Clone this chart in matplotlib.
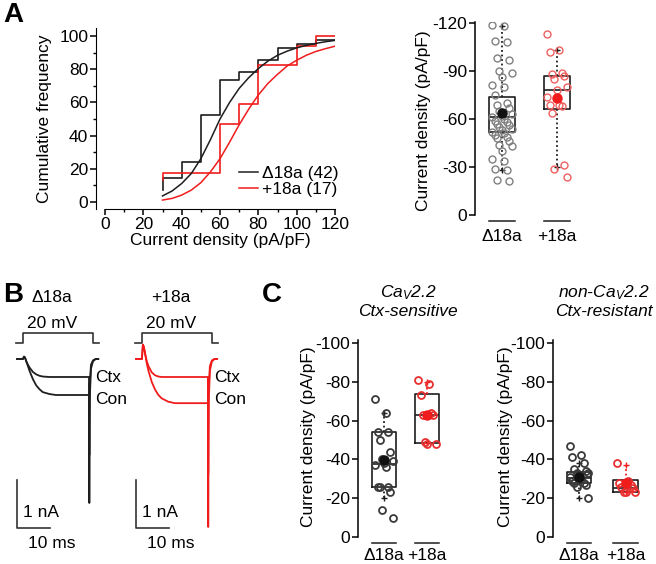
import numpy as np
import matplotlib
matplotlib.use("Agg")
import matplotlib.pyplot as plt
from matplotlib.ticker import MultipleLocator

plt.rcParams['font.family'] = ['Liberation Sans', 'DejaVu Sans']
plt.rcParams['font.size'] = 12.5
plt.rcParams['axes.unicode_minus'] = False
plt.rcParams['mathtext.fontset'] = 'custom'
plt.rcParams['mathtext.it'] = 'Liberation Sans:italic'
plt.rcParams['mathtext.rm'] = 'Liberation Sans'
plt.rcParams['mathtext.default'] = 'it'

# ---------------- data ----------------
groups = ['\u039418a', '+18a']

# A: cumulative frequency (%), step histogram, bins of 10 pA/pF
cdf_bins = [30, 30, 40, 50, 60, 70, 80, 90, 100, 110, 120]
cdf_delta = [7, 14.3, 23.8, 52.4, 73.8, 78.6, 85.7, 92.9, 95.2, 97.6, 97.6]
cdf_plus = [13, 17.6, 17.6, 17.6, 47.1, 58.8, 82.4, 82.4, 94.1, 100, 100]
# A: fitted curves
fit_x = [30, 35, 40, 45, 50, 55, 60, 65, 70, 75, 80, 85, 90, 95, 100, 105, 110, 115, 120]
fit_delta = [3.5, 6.5, 11, 17, 26, 37.5, 50, 60, 68.5, 75, 80.5, 85, 88.5, 91, 93, 94.5, 95.7, 96.7, 97.5]
fit_plus = [1, 2, 4, 7, 11.5, 18, 26, 36, 46.5, 56, 64.5, 71.5, 77, 82, 85.5, 88.5, 90.8, 92.5, 94]

# A: current density of individual cells (pA/pF)
dens_delta = [-119, -118, -109, -108, -98, -97, -90, -89, -86, -81, -80, -75, -70, -69,
              -67, -65, -63, -62, -61, -60, -59, -58, -57, -56, -55, -54, -53, -52, -51,
              -50, -49, -48, -46, -44, -43, -40, -35, -34, -29, -28, -22, -21]
dens_plus = [-113, -103, -102, -89, -88, -87, -85, -80, -78, -74, -69, -69, -68, -64, -31, -29, -24]
# box stats: q1, median, q3, whisker low, whisker high, mean
box_A = [dict(q1=-52, med=-61, q3=-74, whislo=-28, whishi=-118, mean=-64),
         dict(q1=-66, med=-78, q3=-87, whislo=-30, whishi=-103, mean=-73)]

# B: current traces (ms after step onset, nA)
t_trace = [-1.8, 0, 0.3, 0.6, 1, 1.5, 2, 3, 4, 5, 6, 8, 10, 15, 20,
           20.1, 20.25, 20.6, 21.2, 22, 22.8]
delta_con = [0, 0, 0.05, 0.03, -0.05, -0.15, -0.25, -0.42, -0.55, -0.63, -0.69, -0.73, -0.75, -0.75, -0.75,
             -3.0, -0.8, -0.2, -0.05, 0, 0]
delta_ctx = [0, 0, 0.05, 0.03, -0.05, -0.12, -0.18, -0.27, -0.32, -0.35, -0.365, -0.375, -0.375, -0.375, -0.375,
             -2.0, -0.5, -0.12, -0.03, 0, 0]
plus_con = [0, 0, 0.3, 0.25, 0.1, -0.1, -0.25, -0.48, -0.64, -0.75, -0.82, -0.89, -0.92, -0.92, -0.92,
            -3.5, -0.9, -0.25, -0.05, 0, 0]
plus_ctx = [0, 0, 0.3, 0.25, 0.1, -0.05, -0.15, -0.28, -0.34, -0.365, -0.375, -0.375, -0.375, -0.375, -0.375,
            -2.4, -0.6, -0.15, -0.03, 0, 0]
t_protocol = [-2, 0, 0, 21.3, 21.3, 23]
v_protocol = [0, 0, 20, 20, 0, 0]  # mV

# C: Ctx-sensitive / Ctx-resistant current density (pA/pF)
sens_delta = [-71, -64, -54, -54, -50, -44, -40, -39, -38, -37, -36, -26, -26, -26, -23, -14, -10]
sens_plus = [-81, -79, -73, -64, -63, -63, -49, -48, -48]
res_delta = [-47, -42, -41, -38, -35, -34, -33, -33, -32, -31, -30, -29, -28, -28, -27, -26, -20]
res_plus = [-38, -29, -28, -27, -26, -25, -23, -23, -23]
box_sens = [dict(q1=-26, med=-37.5, q3=-54, whislo=-20, whishi=-64, mean=-39.5),
            dict(q1=-48.5, med=-63, q3=-73.5, whislo=-48.5, whishi=-80, mean=-63)]
box_res = [dict(q1=-28, med=-30.5, q3=-33.5, whislo=-20, whishi=-38, mean=-31),
           dict(q1=-23, med=-25.5, q3=-29.5, whislo=-23, whishi=-37, mean=-28)]

# ---------------- style ----------------
W, H = 656, 564
RED = '#f01c1c'
DARK = '#1e1e1e'

fig = plt.figure(figsize=(W / 100, H / 100), dpi=100)


def px_axes(x0, y0, x1, y1):
    return fig.add_axes([x0 / W, 1 - y1 / H, (x1 - x0) / W, (y1 - y0) / H])


def spread(n, width):
    k = (np.arange(n) * 5) % 9 - 4
    return k / 4.0 * width


def box_panel(ax, stats, data, pos, width, jit, edge_cols, mean_cols, whisk_cols, ms, mew, xl, top, pad):
    for s, vals, p, ec, mc, wc in zip(stats, data, pos, edge_cols, mean_cols, whisk_cols):
        ax.bxp([s], positions=[p], widths=width, showfliers=False, showcaps=False,
               showmeans=False, patch_artist=False,
               boxprops=dict(color=DARK, lw=1.2),
               medianprops=dict(color=DARK, lw=1.2),
               whiskerprops=dict(color=wc, lw=1.3, ls=(0, (1, 1.5))))
        ax.plot([p, p], [s['whislo'], s['whishi']], ls='none', marker='+', ms=4, color=wc, mew=1)
        xs = p + spread(len(vals), jit)
        ax.plot(xs, vals, ls='none', marker='o', ms=ms, mfc='none', mec=ec, mew=mew, zorder=3)
        ax.plot([p], [s['mean']], ls='none', marker='o', ms=ms + 1.5, color=mc, zorder=4)
    ax.set_xlim(*xl)
    ax.set_ylim(0, top)
    for sp in ['top', 'right', 'bottom']:
        ax.spines[sp].set_visible(False)
    ax.spines['left'].set_linewidth(1.1)
    ax.tick_params(axis='y', direction='out', length=4, width=1.1, pad=1.5)
    ax.set_xticks(pos)
    ax.set_xticklabels(groups)
    ax.tick_params(axis='x', length=0, pad=pad)
    tr = ax.get_xaxis_transform()
    for p in pos:
        ax.plot([p - width / 2, p + width / 2], [-0.03, -0.03], color=DARK, lw=1.1,
                transform=tr, clip_on=False)
    ax.set_ylabel('Current density (pA/pF)')


# ---------------- A: cumulative frequency ----------------
ax = px_axes(96, 28, 335, 209)
ax.step(cdf_bins, cdf_delta, where='post', color=DARK, lw=1.2)
ax.step(cdf_bins, cdf_plus, where='post', color=RED, lw=1.2)
l1, = ax.plot(fit_x, fit_delta, color=DARK, lw=1.1)
l2, = ax.plot(fit_x, fit_plus, color=RED, lw=1.1)
ax.set_xlim(-4.7, 120)
ax.set_ylim(-4.4, 105)
ax.spines['top'].set_visible(False)
ax.spines['right'].set_visible(False)
ax.spines['bottom'].set_bounds(0, 120)
ax.set_xticks(range(0, 121, 20))
ax.set_yticks(range(0, 101, 20))
ax.xaxis.set_minor_locator(MultipleLocator(10))
ax.yaxis.set_minor_locator(MultipleLocator(10))
ax.tick_params(which='major', direction='out', length=4, width=1.1, pad=1.5)
ax.tick_params(which='minor', direction='out', length=2, width=1)
ax.set_xlabel('Current density (pA/pF)')
ax.set_ylabel('Cumulative frequency')
ax.xaxis.set_label_coords(0.52, -0.13)
ax.yaxis.set_label_coords(-0.185, 0.5)
ax.legend([l1, l2], ['\u039418a (42)', '+18a (17)'], loc='lower left',
          bbox_to_anchor=(0.6, 0.065), frameon=False, handlelength=1.1,
          handletextpad=0.2, labelspacing=0.05, borderpad=0, borderaxespad=0)

# ---------------- A: box plot ----------------
ax = px_axes(475, 22, 585, 215)
box_panel(ax, box_A, [dens_delta, dens_plus], [1, 2], 0.47, 0.18,
          ['#808080', '#f06060'], ['#111111', RED], [DARK, DARK], 5, 1.0, (0.51, 2.51), -120.6, 10)
ax.set_yticks([0, -30, -60, -90, -120])
ax.yaxis.set_label_coords(-0.4, 0.49)

# ---------------- B: traces ----------------
ax = px_axes(0, 280, 260, 564)
ax.set_xlim(0, 260 / 3.3)
ax.set_ylim(-(564 - 359) / 48, (359 - 280) / 48)
ax.axis('off')
t = np.array(t_trace)
tp = np.array(t_protocol)
vp = np.array(v_protocol) * 0.0105 + 0.333
for t0, con, ctx, col, name in [(6.97, delta_con, delta_ctx, DARK, groups[0]),
                                (43.0, plus_con, plus_ctx, RED, groups[1])]:
    ax.plot(t0 + tp, vp, color='#333333', lw=1.2)
    ax.plot(t0 + t, ctx, color=col, lw=1.3)
    ax.plot(t0 + t, con, color=col, lw=1.3)
    ax.text(t0 + 8.8, 1.29, name, ha='center', va='center')
    ax.text(t0 + 8.8, 0.75, '20 mV', ha='center', va='center')
    ax.text(t0 + 21.8, -0.39, 'Ctx', ha='left', va='center')
    ax.text(t0 + 21.8, -0.85, 'Con', ha='left', va='center')
    # scale bars: 10 ms, 1 nA
    ax.plot([t0 - 1.8, t0 - 1.8, t0 + 8.2], [-2.52, -3.53, -3.53], color='#333333', lw=1.2)
    ax.text(t0 - 0.1, -3.2, '1 nA', ha='left', va='center')
    ax.text(t0 + 8.8, -3.85, '10 ms', ha='center', va='center')

# ---------------- C: box plots ----------------
ax = px_axes(358, 340, 458, 537)
box_panel(ax, box_sens, [sens_delta, sens_plus], [1, 2], 0.56, 0.2,
          ['#3a3a3a', '#e83030'], ['#111111', RED], [DARK, RED], 5, 1.3, (0.395, 2.72), -101.5, 8)
ax.set_yticks(range(0, -101, -20))
ax.yaxis.set_label_coords(-0.42, 0.51)
ax.set_title('Ca$_{V}$2.2\nCtx-sensitive', style='italic', fontsize=12.5, pad=17, linespacing=1.2)

ax = px_axes(553, 340, 655, 537)
box_panel(ax, box_res, [res_delta, res_plus], [1, 2], 0.53, 0.2,
          ['#3a3a3a', '#e83030'], ['#111111', RED], [DARK, RED], 5, 1.3, (0.447, 2.62), -101.5, 8)
ax.set_yticks(range(0, -101, -20))
ax.yaxis.set_label_coords(-0.39, 0.51)
ax.set_title('non-Ca$_{V}$2.2\nCtx-resistant', style='italic', fontsize=12.5, pad=17, linespacing=1.2)

# panel letters
for s, x, y in [('A', 3, 2), ('B', 3, 282), ('C', 262, 282)]:
    fig.text(x / W, 1 - y / H, s, fontsize=20, fontweight='bold', ha='left', va='top')

fig.savefig('out.png', dpi=100)
